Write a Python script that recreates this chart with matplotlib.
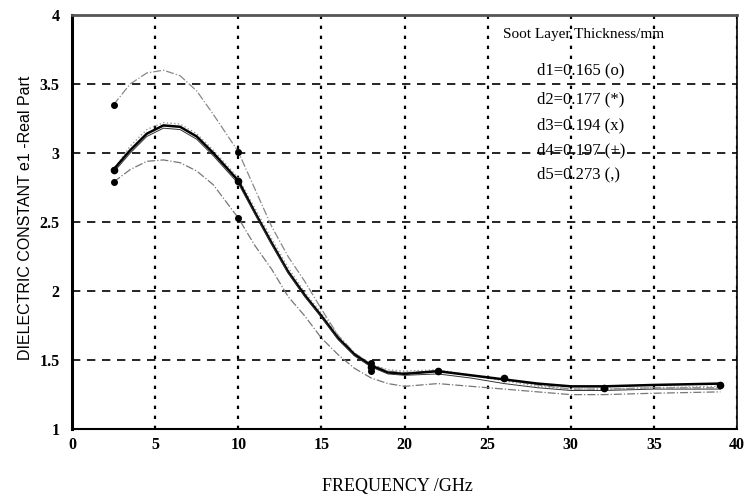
import matplotlib
matplotlib.use("Agg")
import matplotlib.pyplot as plt

# curve values
freq = [2.5, 3.5, 4.5, 5.5, 6.5, 7.5, 8.5, 10, 11, 12, 13, 14, 15, 16, 17, 18,
        19, 20, 22, 24, 26, 28, 30, 32, 35, 39]
d1 = [3.35, 3.50, 3.58, 3.60, 3.56, 3.45, 3.28, 3.01, 2.74, 2.47, 2.25, 2.07, 1.87,
      1.68, 1.55, 1.47, 1.42, 1.41, 1.42, 1.39, 1.36, 1.32, 1.29, 1.29, 1.30, 1.30]
d2 = [2.88, 3.05, 3.17, 3.22, 3.21, 3.14, 3.02, 2.82, 2.60, 2.38, 2.17, 1.99, 1.84,
      1.68, 1.55, 1.47, 1.43, 1.42, 1.43, 1.39, 1.35, 1.31, 1.29, 1.29, 1.30, 1.31]
d3 = [2.88, 3.02, 3.14, 3.20, 3.19, 3.12, 3.00, 2.80, 2.57, 2.35, 2.14, 1.97, 1.82,
      1.66, 1.54, 1.46, 1.41, 1.40, 1.42, 1.39, 1.36, 1.33, 1.31, 1.31, 1.32, 1.33]
d4 = [2.86, 3.00, 3.12, 3.18, 3.17, 3.10, 2.98, 2.78, 2.56, 2.34, 2.13, 1.96, 1.81,
      1.65, 1.53, 1.45, 1.40, 1.39, 1.40, 1.37, 1.33, 1.30, 1.28, 1.28, 1.29, 1.29]
d5 = [2.79, 2.88, 2.94, 2.95, 2.93, 2.87, 2.77, 2.53, 2.33, 2.16, 1.96, 1.82, 1.66,
      1.54, 1.44, 1.37, 1.33, 1.31, 1.33, 1.31, 1.29, 1.27, 1.25, 1.25, 1.26, 1.27]

# measured points (dots)
meas_f = [2.5, 10, 18, 22, 26, 32, 39]
meas_d3 = [2.88, 2.80, 1.45, 1.42, 1.37, 1.30, 1.32]
meas_lo_f = [2.5, 10, 18]
meas_d1 = [3.35, 3.01, 1.48]
meas_d5 = [2.79, 2.53, 1.42]

legend_lines = ["d1=0.165 (o)", "d2=0.177 (*)", "d3=0.194 (x)",
                "d4=0.197 (+)", "d5=0.273 (,)"]

serif = "Liberation Serif"

fig = plt.figure(figsize=(7.46, 4.99), dpi=100)
ax = fig.add_axes([0.0965, 0.140, 0.8915, 0.830])

ax.plot(freq, d1, color="#888888", linestyle="-.", linewidth=0.9)
ax.plot(freq, d2, color="#999999", linestyle=":", linewidth=1.0)
ax.plot(freq, d3, color="black", linestyle="-", linewidth=1.8)
ax.plot(freq, d4, color="#333333", linestyle="-", linewidth=0.7)
ax.plot(freq, d5, color="#777777", linestyle="-.", linewidth=0.9)

ax.plot(meas_f, meas_d3, "o", color="black", markersize=4.5)
ax.plot(meas_lo_f, meas_d1, "o", color="black", markersize=4)
ax.plot(meas_lo_f, meas_d5, "o", color="black", markersize=4)

ax.set_xlim(0, 40)
ax.set_ylim(1, 4)
ax.set_xticks(range(0, 41, 5))
ax.set_yticks([1, 1.5, 2, 2.5, 3, 3.5, 4])
ax.set_yticklabels(["1", "1.5", "2", "2.5", "3", "3.5", "4"])
for lab in ax.get_xticklabels() + ax.get_yticklabels():
    lab.set_fontfamily(serif)
    lab.set_fontsize(11.5)
    lab.set_fontweight("bold")
ax.tick_params(axis="x", length=0, pad=6)
ax.tick_params(axis="y", length=0, pad=9)

ax.xaxis.grid(True, color="black", linestyle=(0, (1.5, 3)), linewidth=1.6)
ax.yaxis.grid(True, color="black", linestyle=(0, (5, 4)), linewidth=1.2)
ax.set_axisbelow(True)

ax.spines["left"].set_linewidth(2.2)
ax.spines["bottom"].set_linewidth(1.5)
ax.spines["right"].set_linewidth(1.2)
ax.spines["top"].set_linewidth(2.0)
ax.spines["top"].set_color("#555555")

ax.set_xlabel("FREQUENCY /GHz", fontfamily=serif, fontsize=13)
ax.xaxis.set_label_coords(0.49, -0.118)
ax.set_ylabel("DIELECTRIC CONSTANT e1 -Real Part", fontfamily="Liberation Sans",
              fontsize=11.5)
ax.yaxis.set_label_coords(-0.058, 0.51)

ax.text(0.648, 0.952, "Soot Layer Thickness/mm", transform=ax.transAxes,
        fontfamily=serif, fontsize=11, va="center")
ys = [0.865, 0.795, 0.734, 0.674, 0.614]
for t, y in zip(legend_lines, ys):
    ax.text(0.699, y, t, transform=ax.transAxes, fontfamily=serif,
            fontsize=12, va="center")

fig.savefig("out.png", dpi=100)
